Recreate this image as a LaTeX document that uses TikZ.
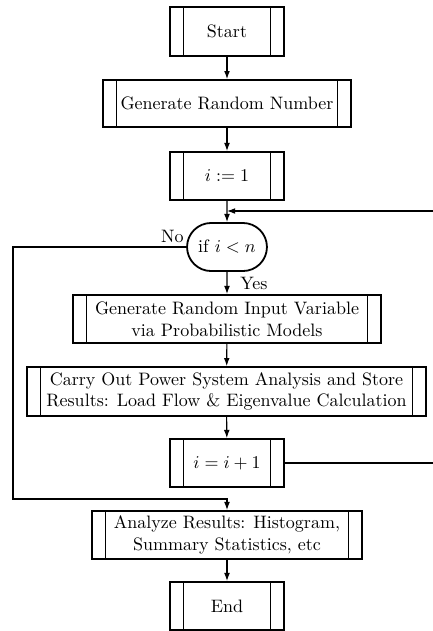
\documentclass[tikz,border=0pt]{standalone}
\usetikzlibrary{shapes.misc,arrows.meta}
\begin{document}
\begin{tikzpicture}[x=0.5556pt,y=-0.5556pt,
  font=\fontsize{10}{12}\selectfont,
  conn/.style={line width=0.6pt,-{Latex[length=4.5pt,width=3.2pt]}},
  line/.style={line width=0.6pt},
  proc/.style={draw,line width=1pt,rectangle,inner sep=0pt,align=center,
    minimum height=26.7pt,
    path picture={
      \draw[line width=0.7pt]
        ([xshift=7.5pt]path picture bounding box.north west) --
        ([xshift=7.5pt]path picture bounding box.south west)
        ([xshift=-7.5pt]path picture bounding box.north east) --
        ([xshift=-7.5pt]path picture bounding box.south east);}},
  small/.style={proc,minimum width=63.3pt},
  decide/.style={draw,line width=1pt,rounded rectangle,inner sep=0pt,
    minimum width=44.4pt,minimum height=26.7pt}]
\useasboundingbox (0,0) rectangle (433,631);

\node[small,minimum height=27.2pt] (start) at (227,31.5) {Start};
\node[proc,minimum width=137.8pt,minimum height=26.1pt] (rand) at (227,103.5) {Generate Random Number};
\node[small] (init) at (227,176) {$i := 1$};
\node[decide] (dec) at (227,247) {if $i < n$};
\node[proc,minimum width=171.1pt] (input) at (227,319) {Generate Random Input Variable\\via Probabilistic Models};
\node[proc,minimum width=221.7pt,minimum height=27.2pt] (power) at (226.5,391.5) {Carry Out Power System Analysis and Store\\Results: Load Flow \& Eigenvalue Calculation};
\node[small] (incr) at (227,463) {$i = i + 1$};
\node[proc,minimum width=150pt] (analyze) at (227,535) {Analyze Results: Histogram,\\Summary Statistics, etc};
\node[small] (stop) at (227,606) {End};

% main flow
\draw[conn] (start) -- (rand);
\draw[conn] (rand) -- (init);
\draw[conn] (init) -- (dec);
\draw[conn] (dec) -- (input);
\draw[conn] (input) -- (power);
\draw[conn] (power) -- (incr);
\draw[conn] (analyze) -- (stop);

% loop exit
\coordinate (exitL) at (13,247);
\coordinate (exitB) at (13,499);
\draw[conn] (dec.west) -- (exitL) -- (exitB) -- (exitB -| analyze.north) -- (analyze.north);

% loop back (continues beyond the right edge)
\coordinate (backOut) at (433,463);
\coordinate (backIn) at (433,211);
\draw[line] (incr.east) -- (backOut);
\draw[conn] (backIn) -- (backIn -| init.south);

% branch labels
\node[anchor=east,inner sep=0pt] (no) at (184,236) {No};
\node[anchor=west,inner sep=0pt] (yes) at (240,283) {Yes};
\end{tikzpicture}
\end{document}
